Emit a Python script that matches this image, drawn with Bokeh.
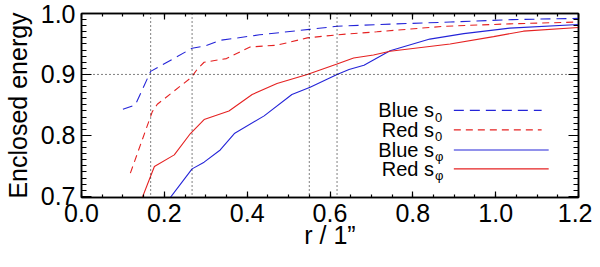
from bokeh.plotting import figure
from bokeh.models import Range1d, LinearAxis, FixedTicker, PrintfTickFormatter, Span
from bokeh.core.properties import value
from bokeh.embed import file_html
from bokeh.resources import INLINE

# ---- data ----
blue_s0_r = [0.10, 0.13, 0.167, 0.267, 0.30, 0.335, 0.43, 0.55, 0.617, 0.72, 0.89, 1.04, 1.20]
blue_s0_e = [0.843, 0.850, 0.905, 0.943, 0.947, 0.956, 0.965, 0.974, 0.979, 0.982, 0.986, 0.990, 0.992]

red_s0_r = [0.118, 0.171, 0.183, 0.265, 0.28, 0.296, 0.35, 0.407, 0.472, 0.545, 0.617, 0.713, 0.875, 1.034, 1.20]
red_s0_e = [0.738, 0.839, 0.851, 0.895, 0.909, 0.920, 0.926, 0.945, 0.948, 0.960, 0.965, 0.970, 0.979, 0.983, 0.986]

blue_sphi_r = [0.20, 0.267, 0.296, 0.335, 0.369, 0.441, 0.508, 0.552, 0.617, 0.646, 0.682, 0.745, 0.841, 0.923, 1.034, 1.20]
blue_sphi_e = [0.685, 0.745, 0.756, 0.776, 0.803, 0.832, 0.867, 0.879, 0.900, 0.908, 0.915, 0.939, 0.958, 0.967, 0.976, 0.982]

red_sphi_r = [0.14, 0.176, 0.224, 0.263, 0.296, 0.356, 0.412, 0.472, 0.545, 0.617, 0.657, 0.705, 0.745, 0.89, 0.995, 1.067, 1.20]
red_sphi_e = [0.686, 0.749, 0.768, 0.803, 0.826, 0.840, 0.867, 0.885, 0.900, 0.917, 0.927, 0.932, 0.938, 0.950, 0.962, 0.971, 0.977]

ref_r = [0.167, 0.267, 0.55, 0.617]
ref_e = [0.9]

x_major = [0.0, 0.2, 0.4, 0.6, 0.8, 1.0, 1.2]
x_minor = [round(i * 0.05, 2) for i in range(25)]
y_major = [0.7, 0.8, 0.9, 1.0]
y_minor = [round(0.70 + i * 0.01, 2) for i in range(31)]

legend_names = ["Blue s", "Red s", "Blue s", "Red s"]
legend_subs = ["0", "0", "\u03c6", "\u03c6"]

x_label = "r / 1\u201d"
y_label = "Enclosed energy"

# ---- styles ----
BLUE = "#2424d8"
RED = "#e52222"
FONT = "Liberation Sans"

p = figure(width=592, height=251, x_range=Range1d(0.0, 1.2), y_range=Range1d(0.698, 1.0),
           output_backend="svg", toolbar_location=None,
           min_border_left=76, min_border_right=14, min_border_top=13, min_border_bottom=0)
p.grid.visible = False
p.outline_line_color = "black"
p.outline_line_width = 1.5

xt = FixedTicker(ticks=x_major, minor_ticks=x_minor)
yt = FixedTicker(ticks=y_major, minor_ticks=y_minor)
fmt = PrintfTickFormatter(format="%.1f")

def style_axis(ax, major, minor, labels=True):
    ax.axis_line_color = "black"
    ax.axis_line_width = 1.5
    ax.major_tick_in = major
    ax.major_tick_out = 0
    ax.minor_tick_in = minor
    ax.minor_tick_out = 0
    ax.major_tick_line_color = "black"
    ax.minor_tick_line_color = "black"
    ax.major_tick_line_width = 1.2
    ax.minor_tick_line_width = 1.2
    if labels:
        ax.major_label_text_font = FONT
        ax.major_label_text_font_size = "25px"
        ax.major_label_text_color = "black"
        ax.axis_label_text_font = FONT
        ax.axis_label_text_font_size = "25px"
        ax.axis_label_text_font_style = "normal"
        ax.axis_label_text_color = "black"
    else:
        ax.major_label_text_font_size = "1px"
        ax.major_label_text_color = None
        ax.major_label_standoff = 0

xa = p.xaxis[0]
xa.ticker = xt
xa.formatter = fmt
xa.axis_label = x_label
style_axis(xa, 6, 3)
xa.major_label_standoff = 6
xa.axis_label_standoff = -4

ya = p.yaxis[0]
ya.ticker = yt
ya.formatter = fmt
ya.axis_label = y_label
style_axis(ya, 10, 5)
ya.major_label_standoff = 6
ya.axis_label_standoff = 6

top = LinearAxis(ticker=xt, formatter=fmt)
style_axis(top, 6, 3, labels=False)
p.add_layout(top, "above")
right = LinearAxis(ticker=yt, formatter=fmt)
style_axis(right, 10, 5, labels=False)
p.add_layout(right, "right")

# reference dotted lines
for r in ref_r:
    p.add_layout(Span(location=r, dimension="height", line_color="black", line_dash="1 3", line_width=1))
for e in ref_e:
    p.add_layout(Span(location=e, dimension="width", line_color="black", line_dash="1 3", line_width=1))

# curves
p.line(blue_s0_r, blue_s0_e, line_color=BLUE, line_width=1.1, line_dash="10 6")
p.line(red_s0_r, red_s0_e, line_color=RED, line_width=1.1, line_dash="7 5")
p.line(blue_sphi_r, blue_sphi_e, line_color=BLUE, line_width=1.1)
p.line(red_sphi_r, red_sphi_e, line_color=RED, line_width=1.1)

# legend (layout positions in data units)
leg_text_x = 0.851
leg_rows = [0.841, 0.809, 0.776, 0.745]
leg_line_x0 = 0.899
leg_line_x1 = [1.111, 1.111, 1.128, 1.128]
leg_colors = [BLUE, RED, BLUE, RED]
leg_dash = ["10 6", "7 5", "solid", "solid"]

p.text(x=[leg_text_x] * 4, y=leg_rows, text=legend_names, text_align="right", text_baseline="middle",
       text_font=value(FONT), text_font_size="20px", text_color="black")
p.text(x=[leg_text_x] * 4, y=leg_rows, text=legend_subs, text_align="left", text_baseline="middle",
       x_offset=1, y_offset=7, text_font=value(FONT), text_font_size="13px", text_color="black")
for yy, x1, c, d in zip(leg_rows, leg_line_x1, leg_colors, leg_dash):
    p.line([leg_line_x0, x1], [yy, yy], line_color=c, line_width=1.1, line_dash=d)

open("out.html", "w").write(file_html(p, INLINE))
